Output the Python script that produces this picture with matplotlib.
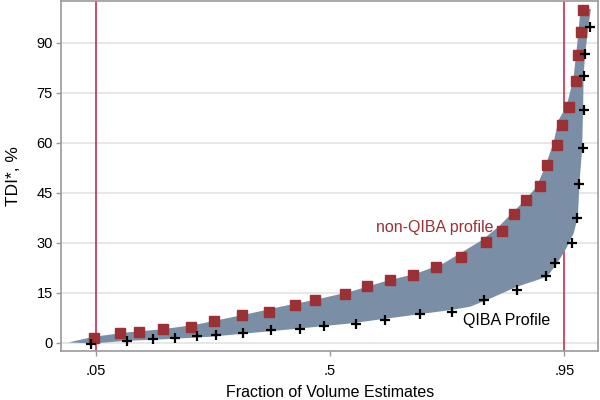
#!/usr/bin/env python
# -*- coding: utf-8 -*-
import matplotlib
matplotlib.use('Agg')
import matplotlib.pyplot as plt
import numpy as np

plt.rcParams['font.family'] = ['Liberation Sans', 'DejaVu Sans']

# non-QIBA profile (red squares)
nonqiba_x = [0.047, 0.097, 0.133, 0.180, 0.234, 0.278, 0.331, 0.383, 0.432,
             0.472, 0.529, 0.571, 0.616, 0.660, 0.703, 0.752, 0.800, 0.830,
             0.853, 0.877, 0.903, 0.917, 0.935, 0.946, 0.958, 0.972, 0.976,
             0.982, 0.985]
nonqiba_y = [1.3, 2.8, 3.1, 4.1, 4.8, 6.4, 8.3, 9.2, 11.4,
             12.9, 14.6, 17.0, 18.9, 20.4, 22.6, 25.6, 30.2, 33.4,
             38.5, 42.8, 47.0, 53.2, 59.3, 65.4, 70.7, 78.5, 86.2,
             93.1, 99.8]

# QIBA profile (black plus)
qiba_x = [0.041, 0.111, 0.160, 0.203, 0.244, 0.282, 0.334, 0.387, 0.442,
          0.489, 0.550, 0.606, 0.673, 0.735, 0.796, 0.860, 0.915, 0.933,
          0.964, 0.975, 0.978, 0.985, 0.987, 0.987, 0.990, 1.000]
qiba_y = [-0.3, 0.6, 1.2, 1.4, 1.9, 2.2, 2.9, 3.9, 4.2,
          4.9, 5.6, 6.7, 8.5, 9.2, 12.7, 15.8, 20.0, 23.8,
          29.9, 37.3, 47.6, 58.5, 69.8, 80.0, 86.7, 94.5]

# shaded band: upper/left edge then lower/right edge
band_top_x = [-0.002, 0.046, 0.110, 0.174, 0.238, 0.270, 0.347, 0.411, 0.475,
              0.539, 0.603, 0.667, 0.718, 0.750, 0.792, 0.824, 0.849, 0.875,
              0.897, 0.913, 0.929, 0.939, 0.954, 0.967, 0.973, 0.981, 0.990]
band_top_y = [0.1, 1.8, 3.1, 4.0, 5.3, 6.3, 8.8, 11.0, 13.0,
              15.3, 18.3, 20.8, 23.8, 26.8, 30.8, 34.8, 38.8, 42.8,
              46.8, 52.8, 59.8, 66.8, 70.8, 78.8, 86.8, 99.8, 100.4]
band_bot_x = [1.001, 0.996, 0.990, 0.987, 0.986, 0.984, 0.979, 0.976, 0.968,
              0.952, 0.936, 0.917, 0.859, 0.801, 0.769, 0.731, 0.635, 0.539,
              0.443, 0.270, 0.174, 0.110, 0.046]
band_bot_y = [100.0, 94.5, 86.7, 80.0, 69.8, 57.8, 47.8, 37.8, 32.8,
              27.8, 23.8, 19.8, 16.8, 12.8, 10.8, 9.8, 7.8, 5.8,
              4.3, 1.8, 1.0, 0.6, -0.2]

ref_lines = [0.05, 0.95]
xticks = [0.05, 0.5, 0.95]
xticklabels = ['.05', '.5', '.95']
yticks = [0, 15, 30, 45, 60, 75, 90]

fig = plt.figure(figsize=(6, 4), dpi=100)
ax = fig.add_axes([0.102, 0.123, 0.895, 0.875])

for y in yticks:
    ax.axhline(y, color='#e3e3e3', lw=1.2, zorder=0)
for x in ref_lines:
    ax.axvline(x, color='#cc2a4e', lw=1.2, zorder=1)

ax.fill(np.concatenate([band_top_x, band_bot_x]),
        np.concatenate([band_top_y, band_bot_y]),
        color='#7a8ea5', lw=0, zorder=2)

ax.plot(nonqiba_x, nonqiba_y, ls='none', marker='s', ms=6.5,
        color='#9b3035', zorder=3)
ax.plot(qiba_x, qiba_y, ls='none', marker='+', ms=7.5, mew=1.6,
        color='black', zorder=3)

ax.text(0.589, 34.7, 'non-QIBA profile', color='#9b3035', fontsize=11.5,
        va='center', ha='left')
ax.text(0.755, 6.8, 'QIBA Profile', color='black', fontsize=11.5,
        va='center', ha='left')

ax.set_xlim(-0.016, 1.015)
ax.set_ylim(-2.4, 102.5)
ax.set_xticks(xticks)
ax.set_xticklabels(xticklabels)
ax.set_yticks(yticks)
ax.tick_params(axis='both', colors='#999999', labelcolor='black',
               labelsize=10.5, length=3.5, width=1)
ax.tick_params(axis='x', pad=6)
ax.tick_params(axis='y', pad=2.5)
for s in ax.spines.values():
    s.set_color('#999999')
    s.set_linewidth(1.2)

ax.set_xlabel('Fraction of Volume Estimates', fontsize=11.5, labelpad=5)
ax.set_ylabel('TDI*, %', fontsize=12.5, labelpad=11)

fig.savefig('out.png', dpi=100)
